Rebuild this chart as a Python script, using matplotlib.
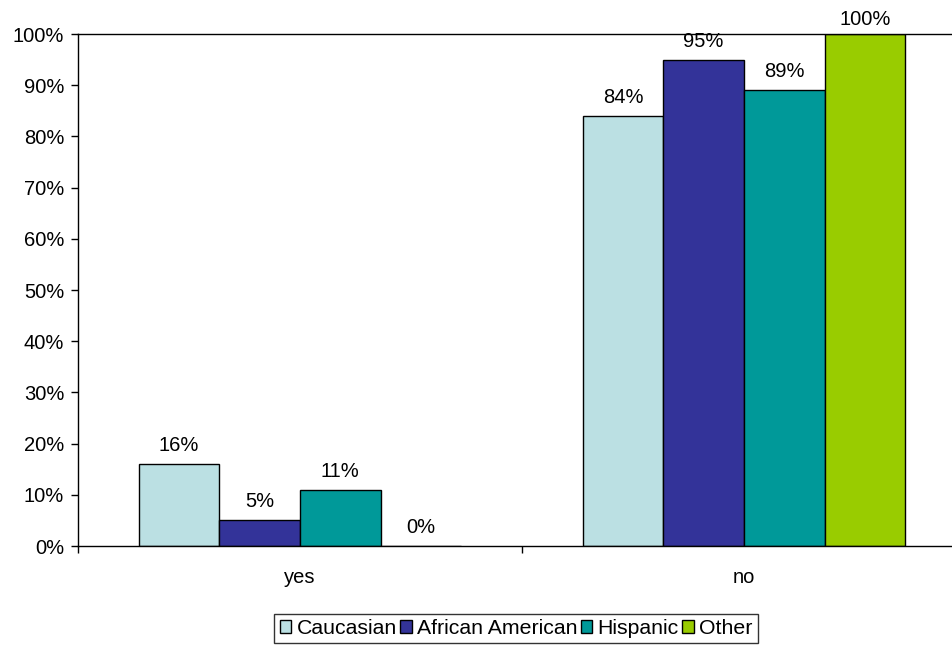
import matplotlib
matplotlib.use("Agg")
import matplotlib.pyplot as plt
import numpy as np
from matplotlib.ticker import PercentFormatter

categories = ["yes", "no"]
series_names = ["Caucasian", "African American", "Hispanic", "Other"]
caucasian = [16, 84]
african_american = [5, 95]
hispanic = [11, 89]
other = [0, 100]
values = [caucasian, african_american, hispanic, other]
colors = ["#BBE0E3", "#333399", "#009999", "#99CC00"]

plt.rcParams['font.family'] = ['Liberation Sans', 'DejaVu Sans']
fs = 14.5
lfs = 15.3

fig = plt.figure(figsize=(9.53, 6.48), dpi=100)
W, H = 953, 648
left, right, top, bottom = 78, 966, 34, 546
ax = fig.add_axes([left / W, 1 - bottom / H, (right - left) / W, (bottom - top) / H])
ppu = (bottom - top) / 100.0  # pixels per percent

x = np.arange(len(categories))
bw = 1 / 5.5
for i, (name, vals, c) in enumerate(zip(series_names, values, colors)):
    pos = x + (i - 1.5) * bw
    ax.bar(pos, vals, width=bw, color=c, edgecolor="black", linewidth=1.0, label=name, zorder=2)
    for p, v in zip(pos, vals):
        ly = min(v + 13 / ppu, 100 + 9 / ppu)
        ax.text(p, ly, f"{v}%", ha="center", va="baseline", fontsize=fs, clip_on=False)

ax.set_xlim(-0.5, 1.5)
ax.set_ylim(0, 100)
ax.set_yticks(np.arange(0, 101, 10))
ax.yaxis.set_major_formatter(PercentFormatter(decimals=0))
ax.set_xticks([-0.5, 0.5, 1.5])
ax.set_xticklabels([])
ax.set_xticks(x, minor=True)
ax.set_xticklabels(categories, minor=True)
ax.tick_params(axis="x", which="minor", length=0, pad=16, labelsize=fs)
ax.tick_params(axis="x", which="major", direction="out", length=5, width=1)
ax.tick_params(axis="y", direction="out", length=5, width=1, labelsize=fs, pad=5)
for s in ax.spines.values():
    s.set_linewidth(1.0)
    s.set_color("black")

leg = fig.legend(loc="center", bbox_to_anchor=(516 / W, 1 - 628.5 / H), ncol=4, fontsize=lfs,
                 frameon=True, fancybox=False, edgecolor="black", handlelength=0.55, handleheight=0.55,
                 handletextpad=0.25, columnspacing=0.15, borderpad=0.25, borderaxespad=0)
leg.get_frame().set_linewidth(1.0)

fig.savefig("out.png", dpi=100)
